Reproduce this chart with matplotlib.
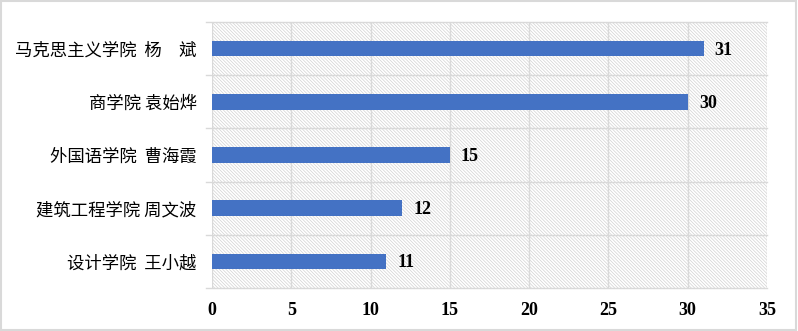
import matplotlib
matplotlib.use('Agg')
import matplotlib.pyplot as plt
from matplotlib.patches import Rectangle

# 数据
labels = ["设计学院  王小越", "建筑工程学院 周文波", "外国语学院  曹海霞", "商学院 袁始烨", "马克思主义学院  杨　斌"]
values = [11, 12, 15, 30, 31]
xticks = [0, 5, 10, 15, 20, 25, 30, 35]

plt.rcParams['font.family'] = ['Noto Sans CJK SC', 'DejaVu Sans']
plt.rcParams['hatch.linewidth'] = 0.5

fig = plt.figure(figsize=(7.98, 3.31), dpi=100)
ax = fig.add_axes([212 / 798, 1 - 288 / 331, (767 - 212) / 798, (288 - 22) / 331])

# 斜线底纹背景
ax.add_patch(Rectangle((0, 0), 1, 1, transform=ax.transAxes, facecolor='white',
                       edgecolor='#d2d2d2', hatch='\\' * 10, linewidth=0, zorder=0))

y = list(range(len(labels)))
ax.barh(y, values, height=0.29, color='#4472C4', zorder=3)

for yi, v in zip(y, values):
    ax.text(v + 0.7, yi - 0.03, str(v), va='center', ha='left', fontsize=13,
            fontweight='bold', family='Liberation Serif', zorder=4)

ax.set_xlim(0, 35)
ax.set_ylim(-0.5, len(labels) - 0.5)
ax.set_xticks(xticks)
ax.set_xticklabels([str(t) for t in xticks], fontsize=13, fontweight='bold', family='Liberation Serif')
ax.set_yticks(y)
ax.set_yticklabels(labels, fontsize=12.5, fontweight='medium')

# 网格线
for gx in xticks:
    ax.axvline(gx, color='#d9d9d9', linewidth=1, zorder=1)
for gy in [i + 0.5 for i in range(-1, len(labels))]:
    ax.plot([-0.4, 35], [gy, gy], color='#d9d9d9', linewidth=1, zorder=1, clip_on=False)

for s in ax.spines.values():
    s.set_visible(False)
ax.tick_params(axis='both', length=0)
ax.tick_params(axis='x', pad=10)
ax.tick_params(axis='y', pad=11)

# 外框
fig.patches.append(Rectangle((0.001, 0.002), 0.997, 0.995, transform=fig.transFigure,
                             fill=False, edgecolor='#d9d9d9', linewidth=1.5))

plt.savefig('out.png', dpi=100)
plt.close()
